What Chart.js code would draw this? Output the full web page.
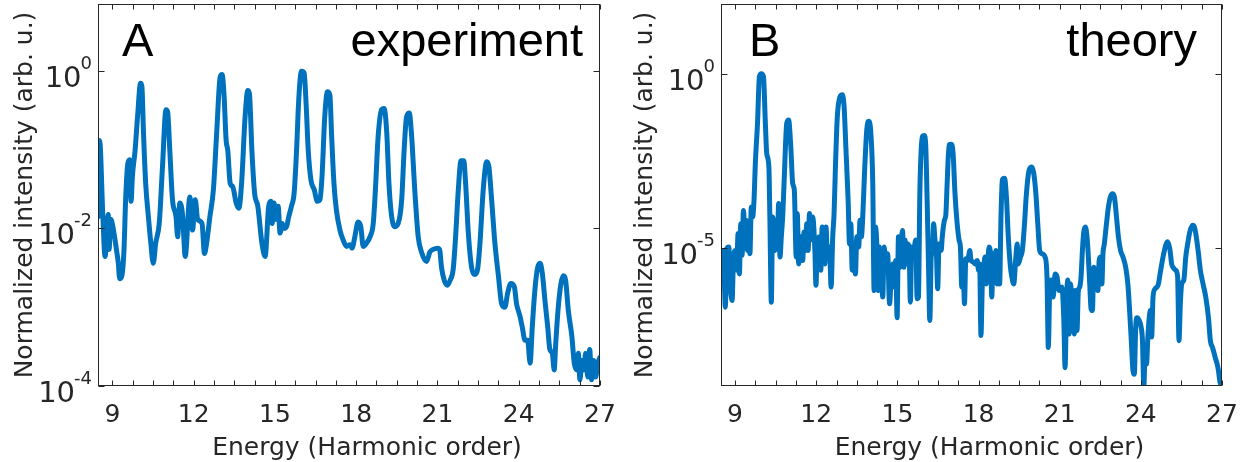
<!DOCTYPE html>
<html>
<head>
<meta charset="utf-8">
<script src="https://cdn.jsdelivr.net/npm/chart.js@4.4.1/dist/chart.umd.min.js"></script>
<style>
    html, body { margin: 0; padding: 0; background: #fff; }
    #wrap { position: relative; width: 1252px; height: 462px; }
    .panel { position: absolute; top: 0; height: 462px; }
</style>
</head>
<body>
<div id="wrap">
    <div class="panel" style="left:0;width:620px"><canvas id="chartA" width="620" height="462"></canvas></div>
    <div class="panel" style="left:620px;width:632px"><canvas id="chartB" width="632" height="462"></canvas></div>
</div>
<script>
// Harmonic spectra (x = harmonic order)
const xTicks = [9, 12, 15, 18, 21, 24, 27];
const xMinorStep = 0.75;

const expX = [8.48, 8.53, 8.65, 8.73, 8.85, 8.88, 8.94, 9.06, 9.15, 9.22, 9.27, 9.35, 9.43, 9.49, 9.57, 9.64, 9.69, 9.74, 9.84, 9.93,
    10.04, 10.09, 10.15, 10.23, 10.33, 10.42, 10.51, 10.60, 10.73, 10.85, 10.98, 11.04, 11.12, 11.22, 11.35, 11.41, 11.49, 11.59, 11.69, 11.86,
    11.96, 12.06, 12.15, 12.31, 12.40, 12.48, 12.60, 12.73, 12.85, 12.98, 13.05, 13.12, 13.20, 13.26, 13.35, 13.44, 13.57, 13.67, 13.77, 13.90,
    14.00, 14.06, 14.15, 14.25, 14.37, 14.52, 14.64, 14.77, 14.85, 14.90, 14.97, 15.04, 15.12, 15.19, 15.27, 15.34, 15.43, 15.51, 15.61, 15.71,
    15.80, 15.88, 15.98, 16.08, 16.15, 16.23, 16.33, 16.45, 16.57, 16.66, 16.74, 16.84, 16.94, 17.03, 17.09, 17.18, 17.27, 17.40, 17.52, 17.64,
    17.77, 17.85, 17.95, 18.07, 18.17, 18.26, 18.38, 18.51, 18.63, 18.71, 18.81, 18.94, 19.03, 19.13, 19.21, 19.31, 19.43, 19.55, 19.68, 19.77,
    19.86, 19.96, 20.04, 20.17, 20.29, 20.41, 20.60, 20.72, 20.84, 21.00, 21.08, 21.15, 21.25, 21.37, 21.47, 21.58, 21.67, 21.77, 21.87, 21.97,
    22.04, 22.14, 22.26, 22.38, 22.48, 22.57, 22.69, 22.82, 22.90, 23.00, 23.12, 23.25, 23.37, 23.49, 23.59, 23.71, 23.84, 23.92, 24.05, 24.13,
    24.23, 24.33, 24.42, 24.50, 24.60, 24.70, 24.79, 24.87, 24.97, 25.07, 25.15, 25.24, 25.31, 25.36, 25.46, 25.56, 25.65, 25.73, 25.83, 25.96,
    26.05, 26.14, 26.20, 26.26, 26.33, 26.40, 26.47, 26.55, 26.62, 26.69, 26.77, 26.84, 26.92, 26.99];
const expY = [1.4e-2, 1.3e-1, 1.4e-2, 4.4e-3, 1.5e-2, 5.4e-3, 1.3e-2, 8.7e-3, 5.4e-3, 3.6e-3, 2.3e-3, 2.5e-3, 5.4e-3, 2.3e-2, 6.6e-2, 7.4e-2, 2.2e-2, 4.6e-2, 9.8e-2, 2.6e-1,
    6.9e-1, 6.3e-1, 1.6e-1, 3.7e-2, 1.4e-2, 6.5e-3, 3.6e-3, 6.5e-3, 1.15e-2, 6.0e-2, 3.2e-1, 3.0e-1, 9.8e-2, 2.3e-2, 1.4e-2, 7.8e-3, 2.1e-2, 1.5e-2, 4.4e-3, 2.5e-2,
    9.5e-3, 2.3e-2, 1.3e-2, 1.15e-2, 4.8e-3, 6.5e-3, 1.4e-2, 3.1e-2, 1.6e-1, 8.3e-1, 8.9e-1, 5.1e-1, 1.3e-1, 9.8e-2, 3.7e-2, 3.4e-2, 2.1e-2, 1.8e-2, 3.7e-2, 2.6e-1,
    5.6e-1, 5.1e-1, 9.8e-2, 2.8e-2, 1.9e-2, 6.5e-3, 4.4e-3, 1.9e-2, 2.2e-2, 1.15e-2, 2.1e-2, 1.3e-2, 1.9e-2, 8.7e-3, 1.15e-2, 1.0e-2, 1.05e-2, 1.4e-2, 1.9e-2, 2.8e-2,
    9.8e-2, 4.3e-1, 9.8e-1, 9.3e-1, 3.9e-1, 9.8e-2, 4.1e-2, 3.1e-2, 2.2e-2, 2.3e-2, 4.6e-2, 2.6e-1, 5.4e-1, 4.9e-1, 1.6e-1, 3.7e-2, 1.7e-2, 9.5e-3, 7.1e-3, 5.9e-3,
    6.2e-3, 5.6e-3, 7.8e-3, 1.2e-2, 1.05e-2, 5.9e-3, 6.5e-3, 7.8e-3, 1.15e-2, 3.1e-2, 1.45e-1, 3.2e-1, 3.3e-1, 1.6e-1, 3.7e-2, 1.4e-2, 1.05e-2, 1.15e-2, 2.3e-2, 9.8e-2,
    2.6e-1, 2.9e-1, 1.6e-1, 2.8e-2, 7.8e-3, 5.0e-3, 3.8e-3, 5.0e-3, 5.4e-3, 5.6e-3, 5.4e-3, 3.2e-3, 2.2e-3, 1.9e-3, 2.2e-3, 3.0e-3, 7.8e-3, 3.1e-2, 7.2e-2, 7.2e-2,
    3.7e-2, 8.7e-3, 3.2e-3, 2.6e-3, 3.0e-3, 6.5e-3, 3.1e-2, 7.0e-2, 6.0e-2, 2.3e-2, 6.5e-3, 2.5e-3, 1.1e-3, 1.0e-3, 1.5e-3, 2.0e-3, 1.8e-3, 1.1e-3, 7.6e-4, 5.6e-4,
    3.8e-4, 3.8e-4, 1.95e-4, 5.6e-4, 1.7e-3, 3.2e-3, 3.6e-3, 2.7e-3, 1.2e-3, 5.6e-4, 2.9e-4, 2.6e-4, 1.6e-4, 3.2e-4, 1.0e-3, 2.0e-3, 2.5e-3, 2.2e-3, 9.1e-4, 4.3e-4,
    1.95e-4, 1.6e-4, 2.6e-4, 1.2e-4, 2.1e-4, 1.6e-4, 2.6e-4, 1.3e-4, 2.9e-4, 1.2e-4, 2.1e-4, 1.3e-4, 1.95e-4, 2.3e-4];

const theoryX = [8.45, 8.52, 8.57, 8.64, 8.69, 8.77, 8.82, 8.89, 8.94, 9.01, 9.06, 9.11, 9.16, 9.21, 9.26, 9.31, 9.36, 9.41, 9.46, 9.51,
    9.55, 9.60, 9.65, 9.70, 9.75, 9.83, 9.90, 9.97, 10.05, 10.12, 10.17, 10.25, 10.29, 10.34, 10.39, 10.47, 10.52, 10.57, 10.61, 10.66,
    10.71, 10.76, 10.82, 10.91, 10.98, 11.06, 11.13, 11.19, 11.26, 11.30, 11.35, 11.43, 11.50, 11.55, 11.60, 11.65, 11.70, 11.75, 11.80, 11.87,
    11.95, 11.99, 12.04, 12.12, 12.17, 12.22, 12.27, 12.32, 12.36, 12.41, 12.49, 12.55, 12.61, 12.66, 12.71, 12.78, 12.88, 12.96, 13.03, 13.10,
    13.18, 13.23, 13.28, 13.33, 13.38, 13.45, 13.50, 13.57, 13.62, 13.67, 13.72, 13.79, 13.87, 13.94, 14.02, 14.09, 14.14, 14.19, 14.24, 14.29,
    14.34, 14.39, 14.46, 14.51, 14.58, 14.64, 14.71, 14.79, 14.84, 14.89, 14.94, 14.99, 15.04, 15.09, 15.14, 15.19, 15.24, 15.28, 15.33, 15.38,
    15.43, 15.48, 15.53, 15.58, 15.63, 15.68, 15.73, 15.78, 15.83, 15.88, 15.93, 15.99, 16.05, 16.10, 16.15, 16.20, 16.25, 16.30, 16.34, 16.39,
    16.44, 16.49, 16.54, 16.62, 16.66, 16.74, 16.79, 16.84, 16.91, 16.99, 17.06, 17.13, 17.21, 17.28, 17.33, 17.38, 17.43, 17.48, 17.53, 17.60,
    17.68, 17.72, 17.80, 17.87, 17.95, 18.00, 18.04, 18.09, 18.14, 18.19, 18.24, 18.29, 18.34, 18.39, 18.44, 18.49, 18.54, 18.59, 18.64, 18.69,
    18.74, 18.78, 18.83, 18.88, 18.96, 19.03, 19.10, 19.18, 19.23, 19.30, 19.38, 19.43, 19.47, 19.55, 19.62, 19.70, 19.77, 19.87, 19.97, 20.04,
    20.12, 20.19, 20.26, 20.34, 20.46, 20.53, 20.58, 20.63, 20.68, 20.76, 20.83, 20.90, 20.98, 21.08, 21.15, 21.20, 21.25, 21.30, 21.35, 21.40,
    21.45, 21.50, 21.54, 21.59, 21.64, 21.69, 21.74, 21.79, 21.84, 21.89, 21.95, 22.01, 22.06, 22.11, 22.16, 22.21, 22.26, 22.31, 22.36, 22.41,
    22.46, 22.51, 22.56, 22.60, 22.65, 22.73, 22.80, 22.88, 22.95, 23.02, 23.10, 23.17, 23.25, 23.34, 23.44, 23.52, 23.57, 23.64, 23.71, 23.76,
    23.81, 23.86, 23.94, 24.01, 24.06, 24.11, 24.16, 24.21, 24.26, 24.31, 24.35, 24.40, 24.45, 24.53, 24.60, 24.65, 24.72, 24.82, 24.92, 24.99,
    25.07, 25.14, 25.22, 25.29, 25.36, 25.41, 25.46, 25.51, 25.59, 25.66, 25.73, 25.81, 25.91, 25.98, 26.05, 26.13, 26.20, 26.30, 26.40, 26.50,
    26.57, 26.65, 26.75, 26.82, 26.87, 26.92, 26.95, 27.00];
const theoryY = [6.2e-6, 1.5e-6, 8.5e-6, 2.0e-7, 9.5e-6, 1.07e-5, 9.3e-7, 3.1e-7, 4.4e-6, 8.5e-6, 2.3e-6, 2.6e-5, 1.8e-6, 5.0e-5, 6.2e-6, 1.2e-4, 3.2e-5, 6.3e-5, 8.5e-6, 2.9e-5,
    6.9e-6, 1.5e-4, 7.8e-5, 2.3e-4, 2.7e-3, 3.8e-2, 8.3e-1, 1.0, 8.3e-1, 3.8e-2, 5.2e-3, 2.1e-3, 5.0e-5, 2.8e-7, 7.8e-5, 8.5e-6, 6.3e-5, 2.1e-5, 1.9e-4, 5.5e-6,
    2.1e-5, 7.8e-5, 1.1e-3, 3.8e-2, 4.7e-2, 8.1e-3, 7.1e-4, 4.6e-4, 5.5e-6, 9.8e-5, 3.5e-6, 2.1e-5, 4.4e-6, 2.9e-5, 8.5e-6, 5.0e-5, 8.5e-6, 9.8e-5, 1.7e-5, 7.8e-5,
    8.5e-6, 8.5e-7, 1.07e-5, 2.1e-5, 2.3e-6, 4.0e-5, 3.2e-5, 3.5e-6, 4.0e-5, 8.5e-6, 1.07e-5, 7.6e-7, 2.1e-5, 9.8e-5, 2.1e-3, 5.9e-2, 2.2e-1, 2.5e-1, 1.15e-1, 6.5e-3,
    2.3e-4, 1.3e-5, 5.0e-5, 2.3e-6, 1.3e-5, 1.8e-6, 2.1e-5, 1.07e-5, 6.3e-5, 2.1e-5, 7.8e-5, 1.7e-3, 2.5e-2, 4.3e-2, 1.95e-2, 7.1e-4, 6.0e-7, 4.0e-5, 1.3e-5, 6.0e-7,
    1.07e-5, 3.5e-6, 3.9e-7, 1.07e-5, 2.8e-6, 6.9e-6, 2.5e-7, 2.8e-6, 3.5e-6, 7.6e-7, 4.4e-6, 1.0e-7, 2.1e-5, 2.8e-6, 1.3e-5, 3.2e-5, 2.8e-6, 1.7e-5, 3.5e-6, 1.3e-5,
    1.07e-5, 2.8e-7, 1.07e-5, 5.5e-6, 1.07e-5, 1.7e-5, 3.5e-7, 3.9e-7, 3.6e-4, 6.5e-3, 1.6e-2, 1.7e-2, 8.1e-3, 2.3e-4, 3.5e-6, 8.3e-8, 5.5e-6, 8.5e-6, 5.0e-5, 1.7e-5,
    8.5e-6, 6.8e-7, 1.3e-5, 8.5e-6, 2.1e-5, 6.3e-5, 8.7e-5, 7.1e-4, 9.1e-3, 9.5e-3, 5.2e-3, 3.6e-4, 5.0e-5, 1.7e-5, 1.07e-5, 7.6e-7, 4.4e-6, 2.5e-7, 4.9e-6, 4.4e-6,
    8.5e-6, 4.4e-6, 4.0e-6, 3.5e-6, 4.4e-6, 2.3e-6, 3.5e-6, 3.1e-8, 9.3e-7, 2.8e-6, 5.5e-6, 9.3e-7, 3.5e-6, 1.07e-5, 6.9e-6, 3.9e-7, 6.9e-6, 2.3e-6, 8.5e-6, 9.3e-7,
    1.05e-6, 9.3e-7, 7.8e-5, 8.9e-4, 1.0e-3, 3.0e-4, 2.1e-5, 2.8e-6, 1.5e-6, 9.3e-7, 5.5e-6, 1.3e-5, 3.5e-6, 5.5e-6, 8.5e-6, 5.0e-5, 3.6e-4, 1.7e-3, 2.1e-3, 1.4e-3,
    3.6e-4, 5.0e-5, 8.5e-6, 6.9e-6, 5.5e-6, 1.5e-6, 1.4e-8, 6.0e-7, 1.2e-6, 3.9e-7, 1.8e-6, 1.5e-6, 6.0e-7, 7.6e-7, 1.0e-7, 3.7e-9, 2.5e-7, 1.2e-6, 3.4e-8, 9.3e-7,
    3.9e-7, 6.0e-7, 3.4e-8, 6.0e-7, 4.3e-8, 6.0e-7, 7.6e-7, 1.5e-6, 8.5e-6, 2.9e-5, 4.0e-5, 2.1e-5, 5.5e-6, 9.3e-7, 1.8e-7, 1.6e-7, 2.8e-6, 2.3e-6, 1.5e-6, 6.0e-7,
    4.4e-6, 5.5e-6, 9.3e-7, 6.9e-6, 1.3e-5, 5.0e-5, 1.5e-4, 3.0e-4, 3.6e-4, 3.0e-4, 7.8e-5, 2.1e-5, 8.5e-6, 5.5e-6, 2.8e-6, 9.3e-7, 2.5e-7, 2.8e-8, 3.0e-9, 2.4e-9,
    5.4e-8, 1.0e-7, 8.3e-8, 5.4e-8, 2.2e-8, 1.0e-9, 1.1e-8, 4.7e-9, 2.8e-8, 1.0e-7, 1.6e-7, 2.8e-8, 3.9e-7, 6.8e-7, 7.6e-7, 9.3e-7, 2.0e-6, 5.5e-6, 1.2e-5, 1.5e-5,
    9.5e-6, 3.5e-6, 2.6e-6, 2.3e-6, 1.5e-6, 2.2e-8, 2.5e-7, 9.3e-7, 1.2e-6, 5.5e-6, 1.3e-5, 2.9e-5, 4.5e-5, 4.0e-5, 2.1e-5, 6.9e-6, 2.3e-6, 9.3e-7, 3.9e-7, 1.0e-7,
    2.2e-8, 1.4e-8, 7.2e-9, 4.7e-9, 3.0e-9, 1.5e-9, 1.2e-9, 2.4e-9];

const expYTicks = [1e-4, 1e-2, 1];
const theoryYTicks = [1e-5, 1];

const axisColor = '#262626';
const lineColor = '#0072BD';
const axisFont = 'DejaVu Sans';
const labelFont = 'Liberation Sans';
const axisSize = 25;

// box, inward ticks, 10^n labels, x label and panel captions
const framePlugin = {
    id: 'frame',
    afterDatasetsDraw(chart, args, o) {
        const { ctx, chartArea: a, scales: { x, y } } = chart;
        const L = Math.round(a.left) + 0.5;
        const R = Math.round(a.right) - 0.5;
        const T = Math.round(a.top) + 0.5;
        const B = Math.round(a.bottom) - 0.5;
        ctx.save();
        ctx.strokeStyle = axisColor;
        ctx.lineWidth = 1;
        ctx.strokeRect(L, T, R - L, B - T);

        ctx.beginPath();
        for (let v = xTicks[0]; v <= xTicks[xTicks.length - 1] + 1e-6; v += xMinorStep) {
            const px = Math.round(x.getPixelForValue(v)) + 0.5;
            ctx.moveTo(px, B); ctx.lineTo(px, B - 5);
            ctx.moveTo(px, T); ctx.lineTo(px, T + 5);
        }
        o.yTicks.forEach(v => {
            const py = Math.round(y.getPixelForValue(v)) + 0.5;
            ctx.moveTo(L, py); ctx.lineTo(L + 6, py);
            ctx.moveTo(R, py); ctx.lineTo(R - 6, py);
        });
        ctx.stroke();

        // y tick labels as 10 with a superscript exponent
        ctx.fillStyle = axisColor;
        ctx.textAlign = 'left';
        ctx.textBaseline = 'alphabetic';
        o.yTicks.forEach(v => {
            const py = y.getPixelForValue(v);
            const e = Math.round(Math.log10(v));
            const sup = e < 0 ? '-' + (-e) : String(e);
            ctx.font = '18px "' + axisFont + '"';
            const supW = ctx.measureText(sup).width;
            const supX = a.left - 6 - supW;
            ctx.fillText(sup, supX, py - 2);
            ctx.font = '29px "' + axisFont + '"';
            const baseW = ctx.measureText('10').width;
            ctx.fillText('10', supX - baseW + 1, py + 16);
        });

        // x axis label
        ctx.font = axisSize + 'px "' + axisFont + '"';
        ctx.textAlign = 'center';
        ctx.fillText('Energy (Harmonic order)', (a.left + a.right) / 2 + 18, 455);

        // panel letter and caption
        ctx.fillStyle = '#000';
        ctx.font = '47px "' + labelFont + '"';
        ctx.textAlign = 'left';
        ctx.fillText(o.letter, a.left + o.letterDx, 56);
        ctx.textAlign = 'right';
        ctx.fillText(o.caption, a.right - o.captionDx, 56);
        ctx.restore();
    }
};

function makePanel(canvasId, xs, ys, cfg) {
    const ctx = document.getElementById(canvasId);
    return new Chart(ctx, {
        type: 'line',
        data: {
            datasets: [{
                data: xs.map((x, i) => ({ x: x, y: ys[i] })),
                borderColor: lineColor,
                borderWidth: 5,
                borderJoinStyle: 'round',
                borderCapStyle: 'round',
                cubicInterpolationMode: 'monotone',
                pointRadius: 0,
                fill: false,
                clip: 0
            }]
        },
        options: {
            responsive: false,
            animation: false,
            events: [],
            layout: { padding: { top: 4, right: cfg.rightPad, left: 0, bottom: 0 } },
            scales: {
                x: {
                    type: 'linear',
                    min: cfg.xMin,
                    max: 27,
                    afterBuildTicks: s => { s.ticks = xTicks.map(v => ({ value: v })); },
                    afterFit: s => { s.height = 76; s.paddingLeft = 0; s.paddingRight = 0; },
                    grid: { display: false, drawTicks: false },
                    border: { display: false },
                    ticks: {
                        autoSkip: false,
                        maxRotation: 0,
                        padding: 14,
                        color: axisColor,
                        font: { family: axisFont, size: axisSize },
                        callback: v => String(v)
                    }
                },
                y: {
                    type: 'logarithmic',
                    min: cfg.yMin,
                    max: cfg.yMax,
                    afterBuildTicks: s => { s.ticks = cfg.yTicks.map(v => ({ value: v })); },
                    afterFit: s => { s.width = cfg.leftW; s.paddingTop = 0; s.paddingBottom = 0; },
                    grid: { display: false, drawTicks: false },
                    border: { display: false },
                    ticks: { display: false },
                    title: {
                        display: true,
                        text: 'Normalized intensity (arb. u.)',
                        color: axisColor,
                        font: { family: axisFont, size: axisSize },
                        padding: { top: 10, bottom: 0 }
                    }
                }
            },
            plugins: {
                legend: { display: false },
                tooltip: { enabled: false },
                frame: {
                    yTicks: cfg.yTicks,
                    letter: cfg.letter,
                    caption: cfg.caption,
                    letterDx: cfg.letterDx,
                    captionDx: cfg.captionDx
                }
            }
        },
        plugins: [framePlugin]
    });
}

makePanel('chartA', expX, expY, {
    xMin: 8.47, yMin: 1e-4, yMax: 7, yTicks: expYTicks,
    leftW: 98, rightPad: 20,
    letter: 'A', caption: 'experiment', letterDx: 24, captionDx: 17
});
makePanel('chartB', theoryX, theoryY, {
    xMin: 8.48, yMin: 1.1e-9, yMax: 100, yTicks: theoryYTicks,
    leftW: 101, rightPad: 30,
    letter: 'B', caption: 'theory', letterDx: 28, captionDx: 25
});
</script>
</body>
</html>
